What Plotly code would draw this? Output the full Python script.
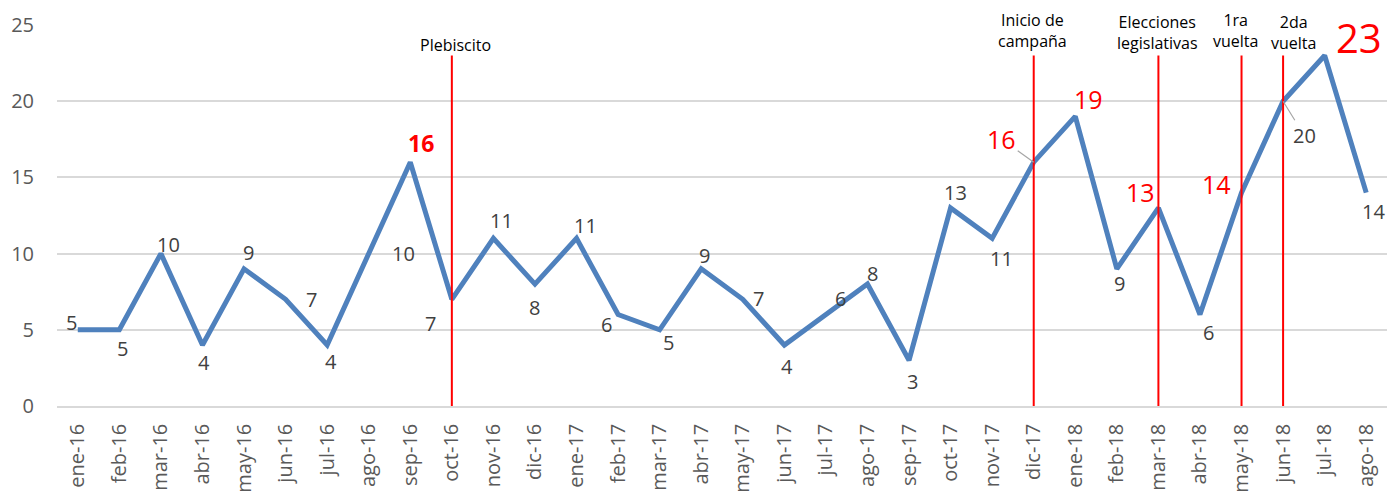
import plotly.graph_objects as go

months = ["ene-16", "feb-16", "mar-16", "abr-16", "may-16", "jun-16", "jul-16", "ago-16",
          "sep-16", "oct-16", "nov-16", "dic-16", "ene-17", "feb-17", "mar-17", "abr-17",
          "may-17", "jun-17", "jul-17", "ago-17", "sep-17", "oct-17", "nov-17", "dic-17",
          "ene-18", "feb-18", "mar-18", "abr-18", "may-18", "jun-18", "jul-18", "ago-18"]
values = [5, 5, 10, 4, 9, 7, 4, 10, 16, 7, 11, 8, 11, 6, 5, 9,
          7, 4, 6, 8, 3, 13, 11, 16, 19, 9, 13, 6, 14, 20, 23, 14]

event_months = ["oct-16", "dic-17", "mar-18", "may-18", "jun-18"]
event_labels = ["Plebiscito", "Inicio de<br>campaña", "Elecciones<br>legislativas",
                "1ra<br>vuelta", "2da<br>vuelta"]
y_ticks = [0, 5, 10, 15, 20, 25]

# --- styling (label offsets in pixels, relative to the point) ---
label_offsets = [(-6, -7), (3, 19), (8, -9), (2, 17), (4, -16), (26, 0), (4, 16), (35, 0),
                 (11, -19), (-21, 24), (8, -18), (0, 23), (9, -13), (-12, 10), (9, 13), (3, -13),
                 (16, -1), (3, 21), (15, -16), (5, -11), (3, 21), (5, -15), (9, 20), (-32, -23),
                 (13, -17), (3, 15), (-18, -16), (9, 18), (-25, -9), (21, 34), (34, -18), (7, 19)]
special = {
    8: dict(color="#ff0000", size=23, bold=True),
    23: dict(color="#ff0000", size=25, leader=True),
    24: dict(color="#ff0000", size=25),
    26: dict(color="#ff0000", size=25),
    28: dict(color="#ff0000", size=25),
    29: dict(color="#404040", size=20, leader=True),
    30: dict(color="#ff0000", size=40),
}
event_label_pos = [(455, 45), (1032, 30), (1157, 32), (1235, 30), (1293, 32)]  # pixel centers
FONT = "Open Sans"

fig = go.Figure()

fig.add_trace(go.Scatter(
    x=months, y=values, mode="lines",
    line=dict(color="#4f81bd", width=5),
    hoverinfo="x+y", showlegend=False, cliponaxis=False,
))

# vertical event lines
for m in event_months:
    fig.add_shape(type="line", xref="x", yref="y", x0=m, x1=m, y0=0, y1=23,
                  line=dict(color="#ff0000", width=2), layer="above")

annotations = []
for i, (m, v) in enumerate(zip(months, values)):
    dx, dy = label_offsets[i]
    st = special.get(i, {})
    color = st.get("color", "#404040")
    size = st.get("size", 20)
    text = str(v)
    if st.get("bold"):
        text = "<b>" + text + "</b>"
    if st.get("leader"):
        annotations.append(dict(
            x=m, y=v, xref="x", yref="y", text=text, showarrow=True,
            ax=dx, ay=dy, arrowhead=0, arrowwidth=1.2, arrowcolor="#a6a6a6",
            standoff=0, startstandoff=0,
            font=dict(family=FONT, size=size, color=color),
            xanchor="center", yanchor="middle",
        ))
    else:
        annotations.append(dict(
            x=m, y=v, xref="x", yref="y", text=text, showarrow=False,
            xshift=dx, yshift=-dy,
            font=dict(family=FONT, size=size, color=color),
            xanchor="center", yanchor="middle",
        ))

# event labels (positioned in page pixels via paper coordinates)
L, R, T, B = 57, 8, 25, 87
W, H = 1395, 493
pw, ph = W - L - R, H - T - B
for lab, (px, py) in zip(event_labels, event_label_pos):
    annotations.append(dict(
        x=(px - L) / pw, y=1 - (py - T) / ph, xref="paper", yref="paper",
        text=lab, showarrow=False, xanchor="center", yanchor="middle",
        font=dict(family=FONT, size=16, color="#000000"),
    ))

fig.update_layout(
    width=W, height=H,
    margin=dict(l=L, r=R, t=T, b=B, pad=0, autoexpand=False),
    paper_bgcolor="white", plot_bgcolor="white",
    annotations=annotations,
    font=dict(family=FONT),
    xaxis=dict(
        type="category", range=[-0.5, len(months) - 0.5],
        tickangle=-90, tickfont=dict(family=FONT, size=20, color="#595959"),
        showgrid=False, showline=True, linecolor="#d9d9d9", linewidth=1.5,
        ticks="", ticklabelstandoff=8, zeroline=False, automargin=False,
    ),
    yaxis=dict(
        range=[0, 25], tickvals=y_ticks,
        tickfont=dict(family=FONT, size=20, color="#595959"),
        showgrid=True, gridcolor="#d9d9d9", gridwidth=1.5,
        zeroline=False, showline=False, ticks="", ticklabelstandoff=22,
        automargin=False,
    ),
)

fig.write_html(
    "out.html",
    config={"displayModeBar": False},
    post_script="document.body.style.margin='0';document.body.style.overflow='hidden';",
)
